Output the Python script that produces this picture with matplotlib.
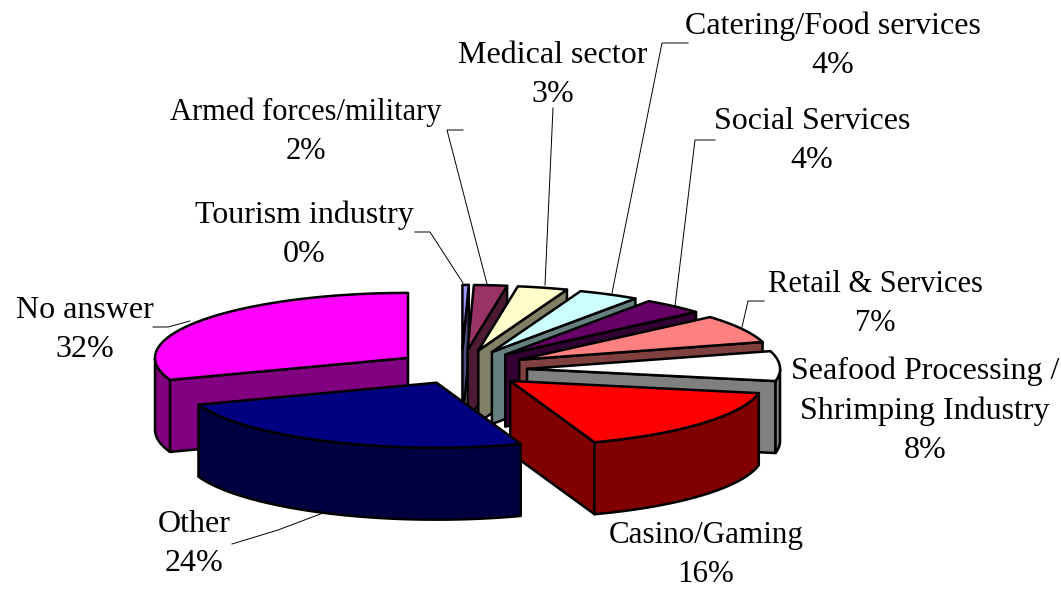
import numpy as np
import matplotlib
matplotlib.use('Agg')
import matplotlib.pyplot as plt
from matplotlib.patches import Polygon

# Data, clockwise from 12 o'clock
sectors = ['Tourism industry', 'Armed forces/military', 'Medical sector',
           'Catering/Food services', 'Social Services', 'Retail & Services',
           'Seafood Processing /\nShrimping Industry', 'Casino/Gaming',
           'Other', 'No answer']
percent_labels = [0, 2, 3, 4, 4, 7, 8, 16, 24, 32]
# angular shares, the printed labels are rounded
shares = [0.4, 2.1, 3.2, 3.9, 4, 7, 7.4, 16.6, 24.9, 30.5]

top_colors = ['#9999FF', '#993366', '#FFFFCC', '#CCFFFF', '#660066',
              '#FF8080', '#FFFFFF', '#FF0000', '#000080', '#FF00FF']
side_colors = ['#4D4D80', '#4D1A33', '#808066', '#668080', '#330033',
               '#804040', '#808080', '#800000', '#000040', '#800080']

# Label anchors (centre of the text block) and leader lines, in pixels
label_pos = [(304, 235), (306, 132), (553, 75), (833, 46), (812, 141),
             (875, 304), (925, 411), (706, 555), (194, 544), (85, 330)]
label_size = [23, 22, 23, 23, 23, 22, 23, 22.3, 23, 23]
leaders = [[(415, 232), (430, 232), (463, 283)],
           [(463, 130), (447, 130), (487, 284)],
           [(553, 108), (545, 285)],
           [(688, 43), (662, 43), (612, 293)],
           [(715, 140), (695, 140), (675, 306)],
           [(764, 301), (748, 301), (742, 327)],
           [],
           [],
           [(232, 544), (278, 530), (323, 513)],
           [(153, 327), (168, 327), (190, 321)]]

# Pie geometry in pixels
cx, cy = 461.6, 368.7
rx, ry = 253, 65
ex, ey = 65.5, 18.8
depth = 72
lw = 1.8
# small corrections to the explosion of each slice
nudge_x = [0, 0, 0, 0, 0, 0, 0, -1, 3, 0]
nudge_y = [0, 0, 0, 0, 0, 0, 1, 0, -3, 0]

plt.rcParams['font.family'] = ['Liberation Serif', 'DejaVu Serif']

fig = plt.figure(figsize=(10.61, 5.90), dpi=100)
ax = fig.add_axes([0, 0, 1, 1])
ax.set_xlim(0, 1061)
ax.set_ylim(590, 0)
ax.axis('off')


def rim(theta, ox, oy, dz=0):
    # theta in radians, clockwise from the top
    return np.column_stack([ox + rx * np.sin(theta),
                            oy - ry * np.cos(theta) + dz])


def face(pts, color, z):
    ax.add_patch(Polygon(pts, closed=True, facecolor=color, edgecolor='black',
                         linewidth=lw, joinstyle='round', zorder=z))


edges = np.radians(np.cumsum([0] + shares) * 360 / sum(shares))

# No answer goes first, the rest run round from the back to the front
order = [9, 0, 1, 2, 3, 4, 5, 6, 7, 8]
for z, i in enumerate(order):
    a0, a1 = edges[i], edges[i + 1]
    mid = (a0 + a1) / 2
    ox = cx + ex * np.sin(mid) + nudge_x[i]
    oy = cy - ey * np.cos(mid) + nudge_y[i]

    # radial walls, only the ones turned to the viewer
    for ang, visible in ((a0, np.sin(a0) < 0), (a1, np.sin(a1) > 0)):
        if visible:
            p = rim(np.array([ang]), ox, oy)[0]
            face([(ox, oy), p, (p[0], p[1] + depth), (ox, oy + depth)],
                 side_colors[i], z * 3)

    # outer wall on the front half
    w0, w1 = max(a0, np.pi / 2), min(a1, 3 * np.pi / 2)
    if w1 > w0:
        th = np.linspace(w0, w1, 60)
        face(np.vstack([rim(th, ox, oy), rim(th[::-1], ox, oy, depth)]),
             side_colors[i], z * 3 + 1)

    # top
    th = np.linspace(a0, a1, 80)
    face(np.vstack([[(ox, oy)], rim(th, ox, oy)]), top_colors[i], z * 3 + 2)

for name, pct, pos, size, line in zip(sectors, percent_labels, label_pos,
                                      label_size, leaders):
    ax.text(pos[0], pos[1], f'{name}\n{pct}%', ha='center', va='center',
            fontsize=size, color='black', linespacing=1.47, zorder=50)
    if line:
        xs, ys = zip(*line)
        ax.plot(xs, ys, color='black', linewidth=0.7, zorder=40)

fig.savefig('out.png', dpi=100)
